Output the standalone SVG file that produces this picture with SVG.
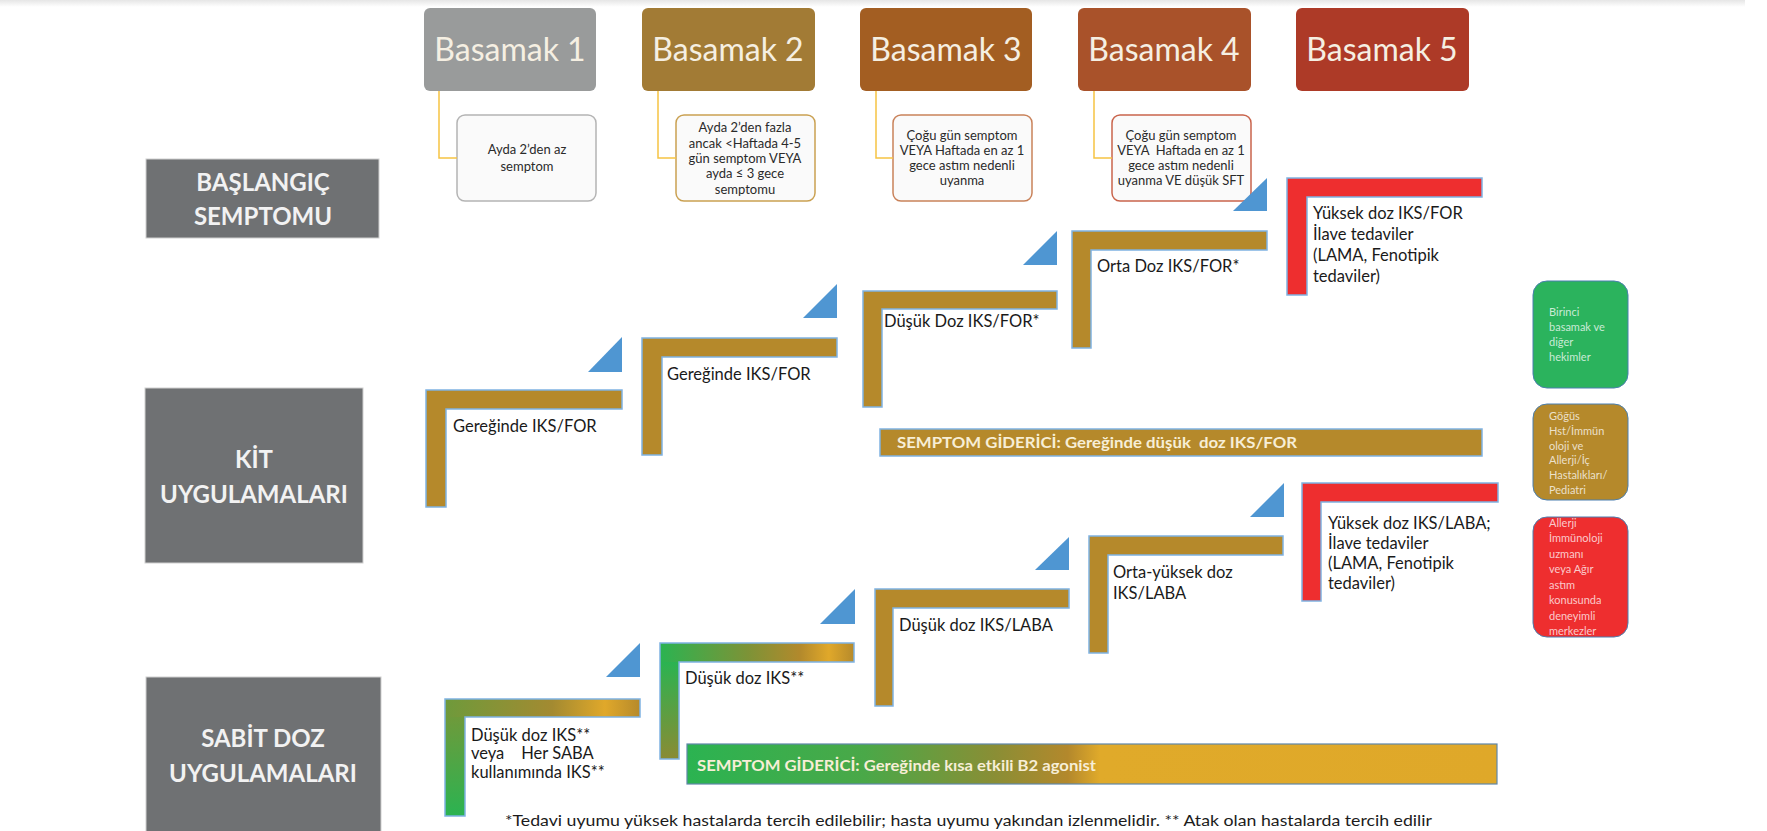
<svg xmlns="http://www.w3.org/2000/svg" width="1767" height="831" viewBox="0 0 1767 831">
  <defs>
    <linearGradient id="topShade" x1="0" y1="0" x2="0" y2="1">
      <stop offset="0" stop-color="#e6e6e6"/>
      <stop offset="1" stop-color="#ffffff"/>
    </linearGradient>
    <!-- green-to-gold fills for the fixed-dose steps -->
    <linearGradient id="s1h" x1="0" y1="0" x2="1" y2="0">
      <stop offset="0" stop-color="#6e9a3b"/>
      <stop offset="0.55" stop-color="#a38a31"/>
      <stop offset="0.82" stop-color="#e0a82a"/>
      <stop offset="1" stop-color="#b68a2b"/>
    </linearGradient>
    <linearGradient id="s1v" x1="0" y1="0" x2="0" y2="1">
      <stop offset="0" stop-color="#6e9a3b"/>
      <stop offset="1" stop-color="#2bb351"/>
    </linearGradient>
    <linearGradient id="s2h" x1="0" y1="0" x2="1" y2="0">
      <stop offset="0" stop-color="#2bb351"/>
      <stop offset="0.45" stop-color="#7c9337"/>
      <stop offset="0.72" stop-color="#b2892c"/>
      <stop offset="0.87" stop-color="#e0a82a"/>
      <stop offset="1" stop-color="#b68a2b"/>
    </linearGradient>
    <linearGradient id="s2v" x1="0" y1="0" x2="0" y2="1">
      <stop offset="0" stop-color="#2bb351"/>
      <stop offset="1" stop-color="#8a8b34"/>
    </linearGradient>
    <linearGradient id="relief2" x1="0" y1="0" x2="1" y2="0">
      <stop offset="0" stop-color="#2bb351"/>
      <stop offset="0.22" stop-color="#4aa848"/>
      <stop offset="0.38" stop-color="#8a8e35"/>
      <stop offset="0.47" stop-color="#b3882c"/>
      <stop offset="0.51" stop-color="#e0aa2a"/>
      <stop offset="1" stop-color="#dfa829"/>
    </linearGradient>
    <style>
      .hdr { stroke: none; }
      .hdrText { font-family: Lato, "Liberation Sans", sans-serif; font-size: 32px; fill: #f5efe2; text-anchor: middle; }
      .sym { fill: #fafafa; stroke-width: 1.5; }
      .symText { font-family: Lato, "Liberation Sans", sans-serif; font-size: 13px; fill: #2a2a2a; text-anchor: middle; }
      .lbl { fill: #6f7173; stroke: #d0d0d0; stroke-width: 1; }
      .lblText { font-family: Lato, "Liberation Sans", sans-serif; font-weight: bold; font-size: 24px; fill: #f2f2f2; text-anchor: middle; }
      .step { fill: #b5892b; stroke: #7fb2e2; stroke-width: 1.5; }
      .stepRed { fill: #ee2e2f; stroke: #7fb2e2; stroke-width: 1.5; }
      .stepLine { fill: none; stroke: #7fb2e2; stroke-width: 1.5; }
      .stepText { font-family: Lato, "Liberation Sans", sans-serif; font-size: 16.5px; fill: #1a1a1a; }
      .tri { fill: #4f96d2; }
      .link { fill: none; stroke: #f6c443; stroke-width: 1.5; }
      .reliefText { font-family: Lato, "Liberation Sans", sans-serif; font-weight: bold; font-size: 15px; fill: #f7eed6; }
      .side { stroke: #4a7fb0; stroke-width: 1; }
      .sideText { font-family: Lato, "Liberation Sans", sans-serif; font-size: 11px; fill: #ffffff; fill-opacity: 0.75; }
      .note { font-family: Lato, "Liberation Sans", sans-serif; font-size: 16px; fill: #1c1c1c; }
    </style>
  </defs>

  <rect x="0" y="0" width="1767" height="831" fill="#ffffff"/>
  <rect x="0" y="0" width="1745" height="7" fill="url(#topShade)"/>

  <!-- step headers -->
  <g id="basamak1"><rect class="hdr" x="424" y="8" width="172" height="83" rx="6" fill="#999b9b"/><text class="hdrText" x="510" y="61">Basamak 1</text></g>
  <g id="basamak2"><rect class="hdr" x="642" y="8" width="173" height="83" rx="6" fill="#a27b35"/><text class="hdrText" x="728" y="61">Basamak 2</text></g>
  <g id="basamak3"><rect class="hdr" x="860" y="8" width="172" height="83" rx="6" fill="#a35e22"/><text class="hdrText" x="946" y="61">Basamak 3</text></g>
  <g id="basamak4"><rect class="hdr" x="1078" y="8" width="173" height="83" rx="6" fill="#a9522a"/><text class="hdrText" x="1164" y="61">Basamak 4</text></g>
  <g id="basamak5"><rect class="hdr" x="1296" y="8" width="173" height="83" rx="6" fill="#ad3a27"/><text class="hdrText" x="1382" y="61">Basamak 5</text></g>

  <!-- symptom descriptions -->
  <g id="symptom1">
    <rect class="sym" x="457" y="115" width="139" height="86" rx="8" stroke="#b4b4b4"/>
    <text class="symText" x="527" y="154">Ayda 2’den az</text>
    <text class="symText" x="527" y="171">semptom</text>
  </g>
  <g id="symptom2">
    <rect class="sym" x="676" y="115" width="139" height="86" rx="8" stroke="#caa152"/>
    <text class="symText" x="745" y="132">Ayda 2’den fazla</text>
    <text class="symText" x="745" y="148">ancak &lt;Haftada 4-5</text>
    <text class="symText" x="745" y="163">gün semptom VEYA</text>
    <text class="symText" x="745" y="178">ayda ≤ 3 gece</text>
    <text class="symText" x="745" y="194">semptomu</text>
  </g>
  <g id="symptom3">
    <rect class="sym" x="893" y="115" width="139" height="86" rx="8" stroke="#c9825a"/>
    <text class="symText" x="962" y="140">Çoğu gün semptom</text>
    <text class="symText" x="962" y="155">VEYA Haftada en az 1</text>
    <text class="symText" x="962" y="170">gece astım nedenli</text>
    <text class="symText" x="962" y="185">uyanma</text>
  </g>
  <g id="symptom4">
    <rect class="sym" x="1112" y="115" width="139" height="86" rx="8" stroke="#c9644c"/>
    <text class="symText" x="1181" y="140">Çoğu gün semptom</text>
    <text class="symText" x="1181" y="155" xml:space="preserve">VEYA  Haftada en az 1</text>
    <text class="symText" x="1181" y="170">gece astım nedenli</text>
    <text class="symText" x="1181" y="185">uyanma VE düşük SFT</text>
  </g>

  <!-- row labels -->
  <g id="label-baslangic">
    <rect class="lbl" x="146" y="159" width="233" height="79"/>
    <text class="lblText" x="263" y="191">BAŞLANGIÇ</text>
    <text class="lblText" x="263" y="225">SEMPTOMU</text>
  </g>
  <g id="label-kit">
    <rect class="lbl" x="145" y="388" width="218" height="175"/>
    <text class="lblText" x="254" y="468">KİT</text>
    <text class="lblText" x="254" y="503">UYGULAMALARI</text>
  </g>
  <g id="label-sabit">
    <rect class="lbl" x="146" y="677" width="235" height="160"/>
    <text class="lblText" x="263" y="747">SABİT DOZ</text>
    <text class="lblText" x="263" y="782">UYGULAMALARI</text>
  </g>

  <!-- as-needed (KİT) steps -->
  <g id="kit-step1">
    <path class="step" d="M426 390 H622 V409 H446 V507 H426 Z"/>
    <text class="stepText" x="453" y="432">Gereğinde IKS/FOR</text>
  </g>
  <g id="kit-step2">
    <path class="step" d="M642 338 H837 V357 H662 V455 H642 Z"/>
    <text class="stepText" x="667" y="380">Gereğinde IKS/FOR</text>
  </g>
  <g id="kit-step3">
    <path class="step" d="M863 291 H1057 V309 H882 V407 H863 Z"/>
    <text class="stepText" x="884" y="327">Düşük Doz IKS/FOR*</text>
  </g>
  <g id="kit-step4">
    <path class="step" d="M1072 231 H1267 V250 H1091 V348 H1072 Z"/>
    <text class="stepText" x="1097" y="272">Orta Doz IKS/FOR*</text>
  </g>
  <g id="kit-step5">
    <path class="stepRed" d="M1287 178 H1482 V197 H1307 V295 H1287 Z"/>
    <text class="stepText" x="1313" y="219">Yüksek doz IKS/FOR</text>
    <text class="stepText" x="1313" y="240">İlave tedaviler</text>
    <text class="stepText" x="1313" y="261">(LAMA, Fenotipik</text>
    <text class="stepText" x="1313" y="282">tedaviler)</text>
  </g>
  <g id="kit-reliever">
    <rect class="step" x="880" y="429" width="602" height="27"/>
    <text class="reliefText" x="897" y="448" textLength="400" lengthAdjust="spacingAndGlyphs" xml:space="preserve">SEMPTOM GİDERİCİ: Gereğinde düşük  doz IKS/FOR</text>
  </g>

  <!-- fixed-dose (SABİT) steps -->
  <g id="sabit-step1">
    <rect x="445" y="699" width="195" height="18" fill="url(#s1h)"/>
    <rect x="445" y="717" width="20" height="99" fill="url(#s1v)"/>
    <path class="stepLine" d="M445 699 H640 V717 H465 V816 H445 Z"/>
    <text class="stepText" x="471" y="741">Düşük doz IKS**</text>
    <text class="stepText" x="471" y="759" xml:space="preserve">veya    Her SABA</text>
    <text class="stepText" x="471" y="778">kullanımında IKS**</text>
  </g>
  <g id="sabit-step2">
    <rect x="660" y="643" width="194" height="19" fill="url(#s2h)"/>
    <rect x="660" y="662" width="19" height="97" fill="url(#s2v)"/>
    <path class="stepLine" d="M660 643 H854 V662 H679 V759 H660 Z"/>
    <text class="stepText" x="685" y="684">Düşük doz IKS**</text>
  </g>
  <g id="sabit-step3">
    <path class="step" d="M875 589 H1069 V608 H893 V706 H875 Z"/>
    <text class="stepText" x="899" y="631">Düşük doz IKS/LABA</text>
  </g>
  <g id="sabit-step4">
    <path class="step" d="M1089 536 H1283 V555 H1108 V653 H1089 Z"/>
    <text class="stepText" x="1113" y="578">Orta-yüksek doz</text>
    <text class="stepText" x="1113" y="599">IKS/LABA</text>
  </g>
  <g id="sabit-step5">
    <path class="stepRed" d="M1302 483 H1498 V502 H1321 V601 H1302 Z"/>
    <text class="stepText" x="1328" y="529">Yüksek doz IKS/LABA;</text>
    <text class="stepText" x="1328" y="549">İlave tedaviler</text>
    <text class="stepText" x="1328" y="569">(LAMA, Fenotipik</text>
    <text class="stepText" x="1328" y="589">tedaviler)</text>
  </g>
  <g id="sabit-reliever">
    <rect x="687" y="744" width="810" height="40" fill="url(#relief2)" stroke="#5f87a8" stroke-width="1.2"/>
    <text class="reliefText" x="697" y="771" font-size="16" textLength="399" lengthAdjust="spacingAndGlyphs">SEMPTOM GİDERİCİ: Gereğinde kısa etkili B2 agonist</text>
  </g>

  <!-- care-level legend -->
  <g id="level-primary">
    <rect class="side" x="1533" y="281" width="95" height="107" rx="14" fill="#2bb35d"/>
    <text class="sideText" x="1549" y="316">Birinci</text>
    <text class="sideText" x="1549" y="331">basamak ve</text>
    <text class="sideText" x="1549" y="346">diğer</text>
    <text class="sideText" x="1549" y="361">hekimler</text>
  </g>
  <g id="level-specialist">
    <rect class="side" x="1533" y="404" width="95" height="96" rx="14" fill="#b5892b"/>
    <text class="sideText" x="1549" y="420">Göğüs</text>
    <text class="sideText" x="1549" y="435">Hst/İmmün</text>
    <text class="sideText" x="1549" y="450">oloji ve</text>
    <text class="sideText" x="1549" y="464">Allerji/İç</text>
    <text class="sideText" x="1549" y="479">Hastalıkları/</text>
    <text class="sideText" x="1549" y="494">Pediatri</text>
  </g>
  <g id="level-center">
    <rect class="side" x="1533" y="517" width="95" height="120" rx="14" fill="#ee2e2f"/>
    <text class="sideText" x="1549" y="527">Allerji</text>
    <text class="sideText" x="1549" y="542">İmmünoloji</text>
    <text class="sideText" x="1549" y="558">uzmanı</text>
    <text class="sideText" x="1549" y="573">veya Ağır</text>
    <text class="sideText" x="1549" y="589">astım</text>
    <text class="sideText" x="1549" y="604">konusunda</text>
    <text class="sideText" x="1549" y="620">deneyimli</text>
    <text class="sideText" x="1549" y="635">merkezler</text>
  </g>

  <!-- connectors: header-to-symptom links and step-up arrows -->
  <g id="connectors">
    <path class="link" d="M439 91 V158 H457"/>
    <path class="link" d="M658 91 V158 H676"/>
    <path class="link" d="M876 91 V158 H893"/>
    <path class="link" d="M1094 91 V158 H1112"/>

    <path class="tri" d="M622 337 V372 H588 Z"/>
    <path class="tri" d="M837 284 V318 H803 Z"/>
    <path class="tri" d="M1057 231 V265 H1023 Z"/>
    <path class="tri" d="M1267 178 V211 H1233 Z"/>

    <path class="tri" d="M640 643 V677 H606 Z"/>
    <path class="tri" d="M855 589 V624 H820 Z"/>
    <path class="tri" d="M1069 537 V570 H1035 Z"/>
    <path class="tri" d="M1284 483 V517 H1250 Z"/>
  </g>

  <!-- footnote -->
  <text class="note" x="505" y="826" textLength="927" lengthAdjust="spacingAndGlyphs">*Tedavi uyumu yüksek hastalarda tercih edilebilir; hasta uyumu yakından izlenmelidir. ** Atak olan hastalarda tercih edilir</text>
</svg>
